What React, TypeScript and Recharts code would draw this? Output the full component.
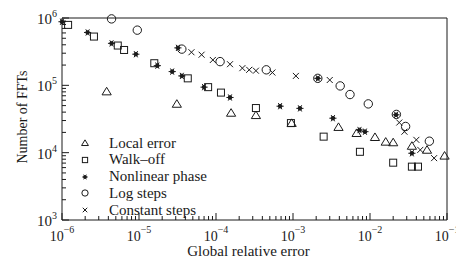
import { ScatterChart, Scatter, XAxis, YAxis, Legend } from "recharts"

// values (x = global relative error, y = number of FFTs)
const localError = [
  { x: 3.8e-6, y: 8.1e4 }, { x: 3.1e-5, y: 5.3e4 }, { x: 1.57e-4, y: 3.9e4 },
  { x: 3.3e-4, y: 3.6e4 }, { x: 9.6e-4, y: 2.75e4 }, { x: 3.9e-3, y: 2.4e4 },
  { x: 6.7e-3, y: 1.95e4 }, { x: 1.16e-2, y: 1.7e4 }, { x: 1.6e-2, y: 1.45e4 },
  { x: 2.0e-2, y: 1.42e4 }, { x: 3.5e-2, y: 1.26e4 }, { x: 5.5e-2, y: 1.1e4 },
  { x: 9.3e-2, y: 9.0e3 },
]

const walkOff = [
  { x: 1.2e-6, y: 7.9e5 }, { x: 2.6e-6, y: 5.3e5 }, { x: 5.3e-6, y: 3.9e5 },
  { x: 6.4e-6, y: 3.35e5 }, { x: 1.58e-5, y: 2.13e5 }, { x: 4.3e-5, y: 1.27e5 },
  { x: 7.9e-5, y: 9.4e4 }, { x: 1.16e-4, y: 7.8e4 }, { x: 3.3e-4, y: 4.6e4 },
  { x: 9.4e-4, y: 2.75e4 }, { x: 2.5e-3, y: 1.73e4 }, { x: 7.4e-3, y: 1.03e4 },
  { x: 2.0e-2, y: 7.1e3 }, { x: 3.5e-2, y: 6.2e3 }, { x: 4.2e-2, y: 6.2e3 },
]

const nonlinearPhase = [
  { x: 1.0e-6, y: 8.8e5 }, { x: 2.15e-6, y: 6.1e5 }, { x: 4.4e-6, y: 4.2e5 },
  { x: 9.1e-6, y: 2.9e5 }, { x: 1.73e-5, y: 1.96e5 }, { x: 2.7e-5, y: 1.6e5 },
  { x: 3.2e-5, y: 3.6e5 }, { x: 3.6e-5, y: 1.38e5 }, { x: 7.0e-5, y: 9.4e4 },
  { x: 1.52e-4, y: 6.6e4 }, { x: 6.8e-4, y: 4.9e4 }, { x: 1.23e-3, y: 4.55e4 },
  { x: 2.1e-3, y: 1.27e5 }, { x: 3.3e-3, y: 3.25e4 }, { x: 7.3e-3, y: 2.17e4 },
  { x: 8.6e-3, y: 2.05e4 }, { x: 2.18e-2, y: 3.65e4 }, { x: 3.5e-2, y: 9.8e3 },
]

const logSteps = [
  { x: 4.4e-6, y: 9.7e5 }, { x: 9.5e-6, y: 6.6e5 }, { x: 3.6e-5, y: 3.45e5 },
  { x: 1.13e-4, y: 2.25e5 }, { x: 4.5e-4, y: 1.7e5 }, { x: 2.1e-3, y: 1.27e5 },
  { x: 4.1e-3, y: 9.8e4 }, { x: 5.5e-3, y: 7.3e4 }, { x: 9.5e-3, y: 5.3e4 },
  { x: 2.2e-2, y: 3.7e4 }, { x: 2.9e-2, y: 2.45e4 }, { x: 5.9e-2, y: 1.48e4 },
]

const constantSteps = [
  { x: 4.8e-5, y: 3.1e5 }, { x: 6.5e-5, y: 2.85e5 }, { x: 9.1e-5, y: 2.38e5 },
  { x: 1.52e-4, y: 2.06e5 }, { x: 2.2e-4, y: 1.8e5 }, { x: 2.7e-4, y: 1.7e5 },
  { x: 3.3e-4, y: 1.65e5 }, { x: 5.4e-4, y: 1.55e5 }, { x: 1.09e-3, y: 1.38e5 },
  { x: 3.0e-3, y: 1.2e5 }, { x: 2.4e-2, y: 2.8e4 }, { x: 2.8e-2, y: 2.05e4 },
  { x: 4.0e-2, y: 1.55e4 }, { x: 4.5e-2, y: 1.1e4 }, { x: 6.8e-2, y: 8.3e3 },
]

const xDecades = [-6, -5, -4, -3, -2, -1]
const yDecades = [3, 4, 5, 6]

const series = [
  { name: "Local error", data: localError, kind: "triangle" },
  { name: "Walk\u2013off", data: walkOff, kind: "square" },
  { name: "Nonlinear phase", data: nonlinearPhase, kind: "asterisk" },
  { name: "Log steps", data: logSteps, kind: "circle" },
  { name: "Constant steps", data: constantSteps, kind: "cross" },
]

const FONT = '"Liberation Serif", "Times New Roman", serif'
const INK = "#1a1a1a"

function logTicks(decades: number[]) {
  const out: number[] = []
  decades.forEach((d, i) => {
    out.push(Math.pow(10, d))
    if (i < decades.length - 1) {
      for (let m = 2; m <= 9; m++) out.push(m * Math.pow(10, d))
    }
  })
  return out
}

const xTicks = logTicks(xDecades)
const yTicks = logTicks(yDecades)

const exponent = (v: number) => Math.round(Math.log10(v))
const isMajor = (v: number) => Math.abs(Math.log10(v) - exponent(v)) < 1e-6
const expText = (v: number) => String(exponent(v)).replace("-", "\u2212")

function Marker({ kind, cx, cy, s = 1 }: { kind: string; cx: number; cy: number; s?: number }) {
  if (cx == null || cy == null) return null
  const sw = 1
  if (kind === "triangle") {
    const h = 4.2 * s
    const w = 4.6 * s
    return <polygon points={`${cx},${cy - h} ${cx - w},${cy + h * 0.8} ${cx + w},${cy + h * 0.8}`} fill="none" stroke={INK} strokeWidth={sw} />
  }
  if (kind === "square") {
    const r = 3.5 * s
    return <rect x={cx - r} y={cy - r} width={2 * r} height={2 * r} fill="none" stroke={INK} strokeWidth={sw} />
  }
  if (kind === "circle") {
    return <circle cx={cx} cy={cy} r={4.2 * s} fill="none" stroke={INK} strokeWidth={sw} />
  }
  if (kind === "cross") {
    const r = 3 * s
    return (
      <g stroke={INK} strokeWidth={sw}>
        <line x1={cx - r} y1={cy - r} x2={cx + r} y2={cy + r} />
        <line x1={cx - r} y1={cy + r} x2={cx + r} y2={cy - r} />
      </g>
    )
  }
  // asterisk
  const r = 3.6 * s
  const spokes = [0, 60, 120]
  return (
    <g stroke={INK} strokeWidth={sw}>
      {spokes.map((a) => {
        const dx = r * Math.cos((a * Math.PI) / 180)
        const dy = r * Math.sin((a * Math.PI) / 180)
        return <line key={a} x1={cx - dx} y1={cy - dy} x2={cx + dx} y2={cy + dy} />
      })}
      <circle cx={cx} cy={cy} r={1.8 * s} fill={INK} />
    </g>
  )
}

function AxisTick(props: any) {
  const { x, y, payload, side } = props
  const v = payload.value
  const major = isMajor(v)
  const len = major ? 7 : 4
  let line
  if (side === "bottom") line = <line x1={x} x2={x} y1={y} y2={y - len} />
  else if (side === "top") line = <line x1={x} x2={x} y1={y} y2={y + len} />
  else if (side === "left") line = <line x1={x} x2={x + len} y1={y} y2={y} />
  else line = <line x1={x} x2={x - len} y1={y} y2={y} />
  return (
    <g>
      <g stroke={INK} strokeWidth={1}>{line}</g>
      {major && side === "bottom" && (
        <text x={x} y={y + 21} textAnchor="middle" fontFamily={FONT} fontSize={14} fill={INK}>
          10<tspan dy={-8} fontSize={10}>{expText(v)}</tspan>
        </text>
      )}
      {major && side === "left" && (
        <text x={x - 5} y={y + 6} textAnchor="end" fontFamily={FONT} fontSize={15} fill={INK}>
          10<tspan dy={-7} fontSize={10}>{expText(v)}</tspan>
        </text>
      )}
    </g>
  )
}

function LegendBox() {
  // keep the reference's legend order
  return (
    <div style={{ fontFamily: FONT, fontSize: 15, color: INK }}>
      {series.map((s) => (
        <div key={s.name} style={{ display: "flex", alignItems: "center", height: 16.8 }}>
          <svg width={14} height={14} style={{ display: "block" }}>
            <Marker kind={s.kind} cx={7} cy={7} s={0.75} />
          </svg>
          <span style={{ marginLeft: 17, whiteSpace: "nowrap" }}>{s.name}</span>
        </div>
      ))}
    </div>
  )
}

export default function App() {
  return (
    <div style={{ position: "absolute", left: 0, top: 0, background: "#fff" }}>
      <ScatterChart width={456} height={258} margin={{ top: 0, right: 0, bottom: 0, left: 0 }}>
        <XAxis
          dataKey="x"
          type="number"
          scale="log"
          domain={[1e-6, 1e-1]}
          ticks={xTicks}
          interval={0}
          height={38}
          tickSize={0}
          tickMargin={0}
          tickLine={false}
          axisLine={{ stroke: INK }}
          tick={(p: any) => <AxisTick {...p} side="bottom" />}
          label={{
            content: (lp: any) => {
              const vb = lp.viewBox || { x: 62, y: 220, width: 385, height: 38 }
              return (
                <text x={vb.x + vb.width / 2 - 6} y={vb.y + vb.height - 2} textAnchor="middle" fontFamily={FONT} fontSize={15} fill={INK}>
                  Global relative error
                </text>
              )
            },
          }}
        />
        <XAxis
          xAxisId="top"
          orientation="top"
          type="number"
          scale="log"
          domain={[1e-6, 1e-1]}
          ticks={xTicks}
          interval={0}
          height={18}
          tickSize={0}
          tickMargin={0}
          tickLine={false}
          axisLine={{ stroke: INK }}
          tick={(p: any) => <AxisTick {...p} side="top" />}
        />
        <YAxis
          dataKey="y"
          type="number"
          scale="log"
          domain={[1e3, 1e6]}
          ticks={yTicks}
          interval={0}
          width={62}
          tickSize={0}
          tickMargin={0}
          tickLine={false}
          axisLine={{ stroke: INK }}
          tick={(p: any) => <AxisTick {...p} side="left" />}
          label={{
            content: (lp: any) => {
              const vb = lp.viewBox || { x: 0, y: 18, width: 62, height: 202 }
              const cx = vb.x + 22
              const cy = vb.y + vb.height / 2 - 2
              return (
                <text x={cx} y={cy} transform={`rotate(-90 ${cx} ${cy})`} textAnchor="middle" dominantBaseline="central" fontFamily={FONT} fontSize={14} fill={INK}>
                  Number of FFTs
                </text>
              )
            },
          }}
        />
        <YAxis
          yAxisId="right"
          orientation="right"
          type="number"
          scale="log"
          domain={[1e3, 1e6]}
          ticks={yTicks}
          interval={0}
          width={9}
          tickSize={0}
          tickMargin={0}
          tickLine={false}
          axisLine={{ stroke: INK }}
          tick={(p: any) => <AxisTick {...p} side="right" />}
        />
        {series.map((s) => (
          <Scatter
            key={s.name}
            name={s.name}
            data={s.data}
            isAnimationActive={false}
            shape={(p: any) => <Marker kind={s.kind} cx={p.cx} cy={p.cy} />}
          />
        ))}
        <Legend
          layout="vertical"
          align="center"
          verticalAlign="middle"
          content={<LegendBox />}
          wrapperStyle={{ left: 78, top: 134.6, width: "auto", height: "auto" }}
        />
      </ScatterChart>
    </div>
  )
}
